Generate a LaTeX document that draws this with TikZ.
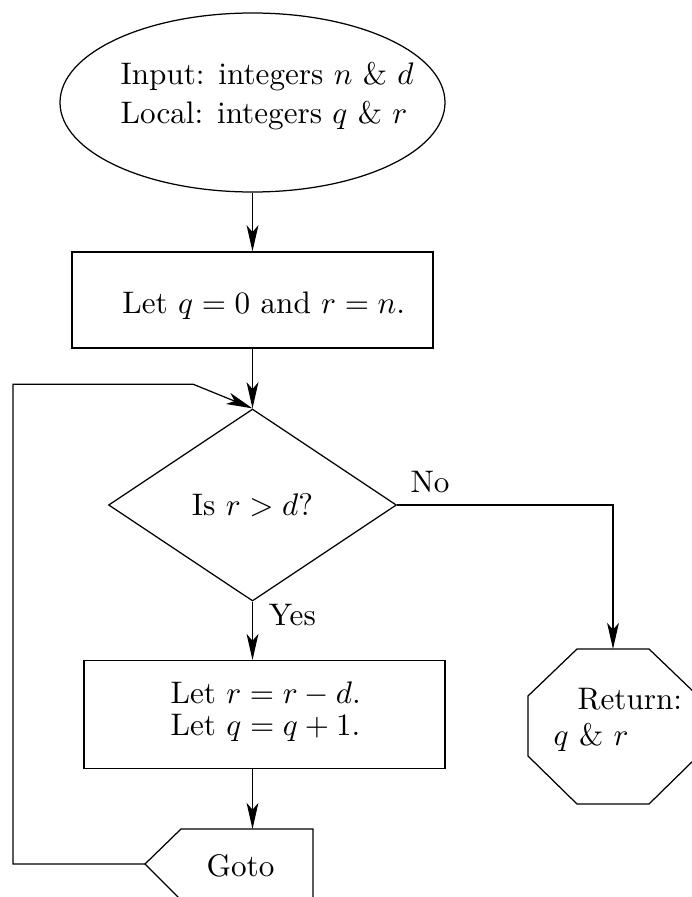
\documentclass[tikz,border=0pt]{standalone}
\usetikzlibrary{shapes.geometric,arrows.meta}
\newlength{\unitpx}\setlength{\unitpx}{0.321pt}
\begin{document}
\begin{tikzpicture}[x=\unitpx,y=-\unitpx,
  shp/.style={draw,inner sep=0pt,line width=0.4pt},
  arr/.style={-{Stealth[length=8.4pt,width=3.8pt,inset=2.2pt]},line width=0.4pt},
  txt/.style={inner sep=0pt,anchor=base west},
]
\useasboundingbox (0,0) rectangle (692,897);
\clip (0,0) rectangle (692,897);

% shapes
\node[shp,ellipse,minimum width=385*\unitpx,minimum height=179*\unitpx] (ell) at (252.5,102.5) {};
\node[shp,rectangle,minimum width=361*\unitpx,minimum height=96*\unitpx] (box1) at (252.5,300) {};
\node[shp,diamond,minimum width=288*\unitpx,minimum height=192*\unitpx] (dia) at (252.5,505) {Is $r>d$?};
\node[shp,rectangle,minimum width=361*\unitpx,minimum height=107.6*\unitpx] (box2) at (264.5,714.5) {};

% goto shape
\coordinate (gototip) at (145,864);
\coordinate (gotoin) at (252.5,829);
\draw[line width=0.4pt] (gototip) -- (181,829) -- (313,829) -- (313,900) -- (181,900) -- cycle;

% return octagon
\coordinate (rettop) at (613,649);
\draw[line width=0.4pt] (577,649) -- (649,649) -- (698,696) -- (698,756) -- (649,804) -- (577,804) -- (528,756) -- (528,696) -- cycle;

% texts
\node[txt] (in1) at (120,85) {Input: integers $n$ \& $d$};
\node[txt] (in2) at (120,123.3) {Local: integers $q$ \& $r$};
\node[txt] (t1) at (121.7,313.3) {Let $q=0$ and $r=n$.};
\node[txt] (t2a) at (170,703.3) {Let $r=r-d$.};
\node[txt] (t2b) at (170,735) {Let $q=q+1$.};
\node[txt] (gototxt) at (206,876.7) {Goto};
\node[txt] (ret1) at (577,709.3) {Return:};
\node[txt] (ret2) at (553,745.5) {$q$ \& $r$};
\node[txt] (no) at (410,492.7) {No};
\node[txt] (yes) at (268.3,625) {Yes};

% connectors
\coordinate (lpc) at (13,384.3);
\coordinate (lpk) at (193.3,384.3);
\draw[arr] (ell.south) -- (box1.north);
\draw[arr] (box1.south) -- (dia.north);
\draw[arr] (dia.east) -| (rettop);
\draw[arr] (dia.south) -- (dia.south |- box2.north);
\draw[arr] (dia.south |- box2.south) -- (gotoin);
\draw[arr] (gototip) -| (lpc) -- (lpk) -- (dia.north);
\end{tikzpicture}
\end{document}
